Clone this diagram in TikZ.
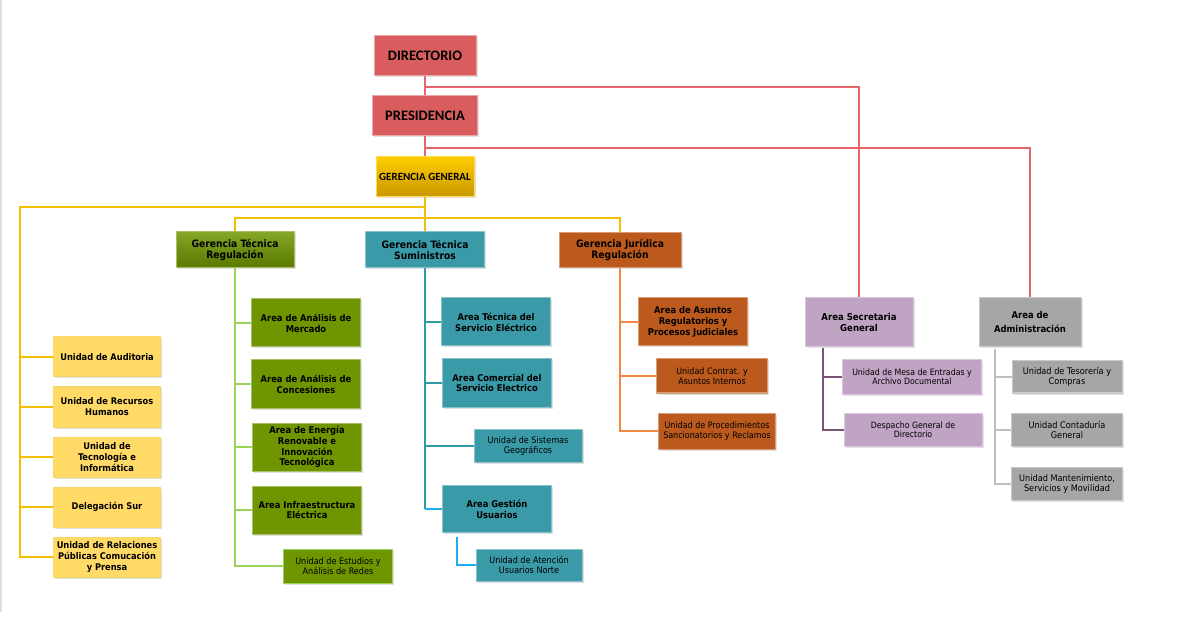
\documentclass[tikz,border=0pt]{standalone}
\usepackage{fontspec}
\IfFontExistsTF{DejaVu Sans Condensed}{\setsansfont{DejaVu Sans Condensed}}{\setsansfont{DejaVu Sans}}
\newfontfamily\calibri{Carlito}
\usetikzlibrary{shadows}

\definecolor{rojo}{HTML}{D95D5E}
\definecolor{rojol}{HTML}{E8646A}
\definecolor{oroa}{HTML}{FFCC00}
\definecolor{orob}{HTML}{C99700}
\definecolor{amarillo}{HTML}{FFDA66}
\definecolor{amarillol}{HTML}{F2BE00}
\definecolor{verde}{HTML}{6F9600}
\definecolor{verdel}{HTML}{9BD45B}
\definecolor{turq}{HTML}{3A9AA7}
\definecolor{turql}{HTML}{2E9AA8}
\definecolor{cian}{HTML}{1AB0F0}
\definecolor{naranja}{HTML}{BC5A1D}
\definecolor{naranjal}{HTML}{F28A45}
\definecolor{lila}{HTML}{C0A4C3}
\definecolor{lilal}{HTML}{7B5578}
\definecolor{gris}{HTML}{A6A6A6}
\definecolor{grisl}{HTML}{BFBFBF}

\begin{document}
\begin{tikzpicture}[x=1pt,y=-1pt,
  caja/.style={rectangle, align=center, inner sep=1pt, line width=1pt, text=black,
    drop shadow={shadow xshift=1.5pt, shadow yshift=-1.5pt, opacity=0.25}},
  roja/.style={caja, fill=rojo, draw=rojo!55!white, minimum width=102pt, minimum height=40pt,
    font=\calibri\bfseries\fontsize{14.5}{16}\selectfont},
  oro/.style={caja, top color=oroa, bottom color=orob, draw=oroa!70!white, minimum width=98pt, minimum height=40pt,
    font=\calibri\bfseries\fontsize{11}{12}\selectfont},
  amarilla/.style={caja, fill=amarillo, draw=amarillol!60!white, minimum width=107pt, minimum height=40pt,
    font=\sffamily\bfseries\fontsize{9.2}{11}\selectfont},
  verdeg/.style={caja, top color=verde!85!white, bottom color=verde!80!black, draw=verde!60!white,
    minimum width=118pt, minimum height=36pt, font=\sffamily\bfseries\fontsize{10.2}{11.5}\selectfont},
  verde/.style={caja, fill=verde, draw=verde!60!white, minimum width=109pt, minimum height=48pt,
    font=\sffamily\bfseries\fontsize{9.3}{10.8}\selectfont},
  verdeu/.style={caja, fill=verde, draw=verdel, minimum width=109pt, minimum height=34pt,
    font=\sffamily\fontsize{9}{9.8}\selectfont},
  turqg/.style={caja, fill=turq, draw=turq!60!white, minimum width=119pt, minimum height=36pt,
    font=\sffamily\bfseries\fontsize{10.2}{11.5}\selectfont},
  turq/.style={caja, fill=turq, draw=turq!60!white, minimum width=109pt, minimum height=48pt,
    font=\sffamily\bfseries\fontsize{9.3}{10.8}\selectfont},
  turqu/.style={caja, fill=turq, draw=turq!60!white, minimum width=108pt, minimum height=33pt,
    font=\sffamily\fontsize{9}{9.2}\selectfont},
  naranjag/.style={caja, fill=naranja, draw=naranja!60!white, minimum width=122pt, minimum height=35pt,
    font=\sffamily\bfseries\fontsize{10.2}{11.5}\selectfont},
  naranja/.style={caja, fill=naranja, draw=naranja!60!white, minimum width=109pt, minimum height=48pt,
    font=\sffamily\bfseries\fontsize{9.3}{10.8}\selectfont},
  naranjau/.style={caja, fill=naranja, draw=naranja!60!white, minimum width=111pt, minimum height=34pt,
    font=\sffamily\fontsize{8.9}{10.5}\selectfont},
  lila/.style={caja, fill=lila, draw=lila!60!white, minimum width=108pt, minimum height=49pt,
    font=\sffamily\bfseries\fontsize{9.5}{11}\selectfont},
  lilau/.style={caja, fill=lila, draw=lila!60!white, minimum width=139pt, minimum height=34pt,
    font=\sffamily\fontsize{8.7}{9.4}\selectfont},
  gris/.style={caja, fill=gris, draw=gris!60!white, minimum width=102pt, minimum height=49pt,
    font=\sffamily\bfseries\fontsize{9.4}{11}\selectfont},
  grisu/.style={caja, fill=gris, draw=gris!60!white, minimum width=111pt, minimum height=33pt,
    font=\sffamily\fontsize{9.1}{9.8}\selectfont},
  lroja/.style={draw=rojol, line width=2.5pt},
  lamarilla/.style={draw=amarillol, line width=2.5pt},
  lverde/.style={draw=verdel, line width=2.5pt},
  lturq/.style={draw=turql, line width=2.5pt},
  lcian/.style={draw=cian, line width=2.5pt},
  lnaranja/.style={draw=naranjal, line width=2.5pt},
  llila/.style={draw=lilal, line width=2.5pt},
  lgris/.style={draw=grisl, line width=2.5pt}]

\fill[white] (0,0) rectangle (1200,628);
\useasboundingbox (0,0) rectangle (1200,628);
\draw[gray!25, line width=1.5pt] (1,0) -- (1,612);

% cabeza
\node[roja] (dir) at (425,56) {DIRECTORIO};
\node[roja, minimum width=105pt] (pres) at (425,116) {PRESIDENCIA};
\node[oro] (gg) at (425,177) {GERENCIA GENERAL};

% gerencias
\node[verdeg] (gtr) at (235,250) {Gerencia Técnica\\Regulación};
\node[turqg] (gts) at (425,250) {Gerencia Técnica\\Suministros};
\node[naranjag] (gjr) at (620,250) {Gerencia Jurídica\\Regulación};

% unidades de la gerencia general
\node[amarilla] (aud) at (107,357) {Unidad de Auditoria};
\node[amarilla] (rrhh) at (107,407) {Unidad de Recursos\\Humanos};
\node[amarilla] (tec) at (107,457) {Unidad de\\Tecnología e\\Informática};
\node[amarilla] (del) at (107,507) {Delegación Sur};
\node[amarilla] (rel) at (107,557) {Unidad de Relaciones\\Públicas Comucación\\y Prensa};

% regulacion
\node[verde] (mer) at (306,323) {Area de Análisis de\\Mercado};
\node[verde] (con) at (306,384) {Area de Análisis de\\Concesiones};
\node[verde] (ene) at (307,447) {Area de Energía\\Renovable e\\Innovación\\Tecnológica};
\node[verde] (inf) at (307,510) {Area Infraestructura\\Eléctrica};
\node[verdeu] (est) at (338,566) {Unidad de Estudios y\\Análisis de Redes};

% suministros
\node[turq] (ate) at (496,322) {Area Técnica del\\Servicio Eléctrico};
\node[turq] (acs) at (497,383) {Area Comercial del\\Servicio Electrico};
\node[turqu] (geo) at (528,446) {Unidad de Sistemas\\Geográficos};
\node[turq, minimum height=47pt] (ges) at (497,509) {Area Gestión\\Usuarios};
\node[turqu, minimum width=106pt, minimum height=32pt] (nor) at (529,565) {Unidad de Atención\\Usuarios Norte};

% juridica
\node[naranja] (asu) at (693,322) {Area de Asuntos\\Regulatorios y\\Procesos Judiciales};
\node[naranjau] (cont) at (712,376) {Unidad Contrat. y\\Asuntos Internos};
\node[naranjau, minimum width=117pt, minimum height=36pt] (pro) at (717,431) {Unidad de Procedimientos\\Sancionatorios y Reclamos};

% secretaria
\node[lila] (sec) at (859,322) {Area Secretaria\\General};
\node[lilau] (mes) at (912,377) {Unidad de Mesa de Entradas y\\Archivo Documental};
\node[lilau, minimum width=138pt, minimum height=33pt] (des) at (913,430) {Despacho General de\\Directorio};

% administracion
\node[gris] (adm) at (1030,322) {Area de\\[3pt]Administración};
\node[grisu, minimum width=110pt, minimum height=32pt] (tes) at (1067,377) {Unidad de Tesorería y\\Compras};
\node[grisu] (ctd) at (1067,430) {Unidad Contaduría\\General};
\node[grisu] (man) at (1067,484) {Unidad Mantenimiento,\\Servicios y Movilidad};

% lineas rojas
\draw[lroja] (dir) -- (pres);
\draw[lroja] (pres) -- (gg);
\coordinate (r1) at (425,87);
\coordinate (r2) at (425,148);
\draw[lroja] (r1) -| (sec.north);
\draw[lroja] (r2) -| (adm.north);

% lineas amarillas
\draw[lamarilla] (gg) -- (gts);
\coordinate (y1) at (425,207);
\coordinate (y0) at (20,207);
\coordinate (y2) at (425,218);
\draw[lamarilla] (y1) -- (y0) |- (rel.west);
\draw[lamarilla] (y0 |- aud.west) -- (aud.west);
\draw[lamarilla] (y0 |- rrhh.west) -- (rrhh.west);
\draw[lamarilla] (y0 |- tec.west) -- (tec.west);
\draw[lamarilla] (y0 |- del.west) -- (del.west);
\draw[lamarilla] (gtr.north) |- (y2) -| (gjr.north);

% regulacion
\draw[lverde] (gtr.south) |- (est.west);
\draw[lverde] (gtr.south |- mer.west) -- (mer.west);
\draw[lverde] (gtr.south |- con.west) -- (con.west);
\draw[lverde] (gtr.south |- ene.west) -- (ene.west);
\draw[lverde] (gtr.south |- inf.west) -- (inf.west);

% suministros
\draw[lturq] (gts.south) -- (gts.south |- ges.west);
\draw[lturq] (gts.south |- ate.west) -- (ate.west);
\draw[lturq] (gts.south |- acs.west) -- (acs.west);
\draw[lturq] (gts.south |- geo.west) -- (geo.west);
\draw[lcian] (gts.south |- ges.west) -- (ges.west);
\coordinate (g4) at (457,537);
\draw[lcian] (g4) |- (nor.west);

% juridica
\draw[lnaranja] (gjr.south) |- (pro.west);
\draw[lnaranja] (gjr.south |- asu.west) -- (asu.west);
\draw[lnaranja] (gjr.south |- cont.west) -- (cont.west);

% secretaria
\coordinate (s1) at (823,348);
\draw[llila] (s1) |- (des.west);
\draw[llila] (s1 |- mes.west) -- (mes.west);

% administracion
\coordinate (a1) at (995,349);
\draw[lgris] (a1) |- (man.west);
\draw[lgris] (a1 |- tes.west) -- (tes.west);
\draw[lgris] (a1 |- ctd.west) -- (ctd.west);
\end{tikzpicture}
\end{document}
